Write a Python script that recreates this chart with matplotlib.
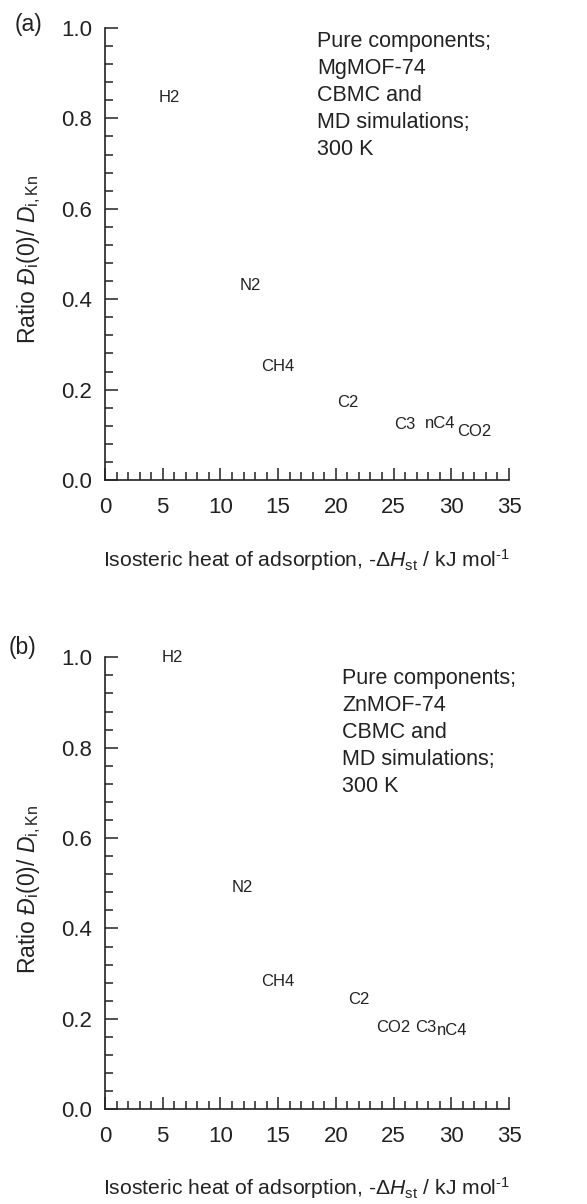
import matplotlib
matplotlib.use("Agg")
import matplotlib.pyplot as plt
from matplotlib.ticker import MultipleLocator

plt.rcParams['font.family'] = ['Liberation Sans', 'DejaVu Sans']
plt.rcParams['mathtext.fontset'] = 'custom'
plt.rcParams['mathtext.rm'] = 'Liberation Sans'
plt.rcParams['mathtext.it'] = 'Liberation Sans:italic'
plt.rcParams['mathtext.bf'] = 'Liberation Sans:bold'

# Panel (a): MgMOF-74
mg_species = ["H2", "N2", "CH4", "C2", "C3", "nC4", "CO2"]
mg_heat = [5.6, 12.6, 15.0, 21.0, 26.0, 29.0, 32.0]
mg_ratio = [0.847, 0.431, 0.252, 0.171, 0.123, 0.125, 0.107]

# Panel (b): ZnMOF-74
zn_species = ["H2", "N2", "CH4", "C2", "CO2", "C3", "nC4"]
zn_heat = [5.8, 11.9, 15.0, 22.0, 25.0, 27.8, 30.1]
zn_ratio = [1.0, 0.491, 0.282, 0.242, 0.181, 0.181, 0.174]

x_ticks = [0, 5, 10, 15, 20, 25, 30, 35]
y_ticks = [0.0, 0.2, 0.4, 0.6, 0.8, 1.0]

panels = [
    ("(a)", "MgMOF-74", mg_species, mg_heat, mg_ratio),
    ("(b)", "ZnMOF-74", zn_species, zn_heat, zn_ratio),
]

W, H = 587, 1204
fig = plt.figure(figsize=(W / 100, H / 100), dpi=100)

axes_px = [(105, 28, 509, 480), (105, 657.3, 509, 1109.3)]
note_px = [(317, 31), (342, 668)]
tag_px = [(28, 25), (23, 647)]
xlabel_px = [560, 1188]

ylabel = r'Ratio $\mathit{Đ}_{\mathrm{i}}\mathrm{(0)/}$ $D_{\mathrm{i,Kn}}$'
xlabel = r'Isosteric heat of adsorption, -$\Delta H_{\mathrm{st}}$ / kJ mol$^{\text{-1}}$'

for (tag, mof, names, xs, ys), (l, t, r, b), (nx, ny), (tx, ty), xly in zip(
        panels, axes_px, note_px, tag_px, xlabel_px):
    ax = fig.add_axes([l / W, 1 - b / H, (r - l) / W, (b - t) / H])
    ax.set_xlim(0, 35)
    ax.set_ylim(0, 1.0)
    ax.spines['top'].set_visible(False)
    ax.spines['right'].set_visible(False)
    for s in ('left', 'bottom'):
        ax.spines[s].set_linewidth(1.2)
        ax.spines[s].set_color('#222222')
    ax.set_xticks(x_ticks)
    ax.set_yticks(y_ticks)
    ax.set_yticklabels([f"{v:.1f}" for v in y_ticks])
    ax.xaxis.set_minor_locator(MultipleLocator(1))
    ax.yaxis.set_minor_locator(MultipleLocator(0.04))
    ax.tick_params(which='major', direction='in', length=9, width=1.1,
                   labelsize=16, colors='#222222')
    ax.tick_params(which='minor', direction='in', length=6, width=1.1,
                   colors='#222222')
    ax.tick_params(axis='x', which='major', pad=12)
    ax.tick_params(axis='y', which='major', pad=9)
    ax.tick_params(top=False, right=False, which='both')

    for name, x, y in zip(names, xs, ys):
        ax.text(x, y, name, ha='center', va='center', fontsize=12,
                color='#222222')

    fig.text(nx / W, 1 - ny / H,
             f"Pure components;\n{mof}\nCBMC and\nMD simulations;\n300 K",
             ha='left', va='top', fontsize=15.5, color='#222222',
             linespacing=1.38)
    fig.text(tx / W, 1 - ty / H, tag, ha='center', va='center', fontsize=16.5,
             color='#222222')
    fig.text(29 / W, 1 - ((t + b) / 2 + 6) / H, ylabel, rotation=90,
             ha='center', va='center', fontsize=16.5, color='#222222')
    fig.text(307 / W, 1 - xly / H, xlabel, ha='center', va='center',
             fontsize=15.2, color='#222222')

fig.savefig("out.png", dpi=100)
